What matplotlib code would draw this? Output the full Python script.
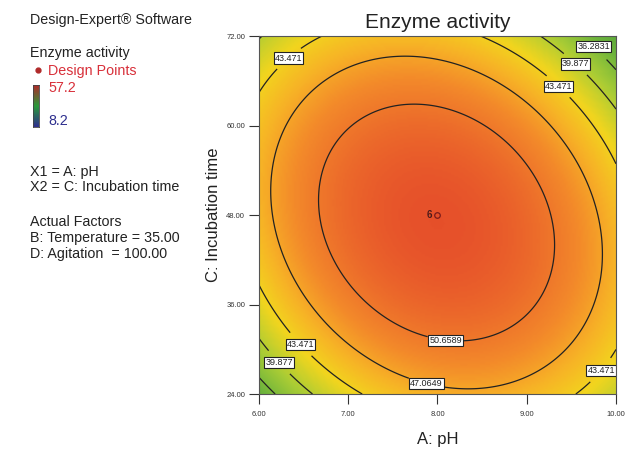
import numpy as np
import matplotlib
matplotlib.use('Agg')
import matplotlib.pyplot as plt
from matplotlib.colors import LinearSegmentedColormap, Normalize

plt.rcParams['font.family'] = ['Liberation Sans', 'DejaVu Sans']

# Quadratic model in coded units (A: pH, C: Incubation time)
b0, bA, bC, bAC, bAA, bCC = 54.33, -0.23, -0.75, -3.32, -8.75, -8.75
ph_range = [6.0, 10.0]
time_range = [24.0, 72.0]
ph_ticks = [6.0, 7.0, 8.0, 9.0, 10.0]
time_ticks = [24.0, 36.0, 48.0, 60.0, 72.0]
levels = [36.2831, 39.877, 43.471, 47.0649, 50.6589]
level_labels = ['36.2831', '39.877', '43.471', '47.0649', '50.6589']
# label positions (pH, time)
label_pos = [(6.29, 69.6), (9.79, 71.1), (9.59, 68.8), (9.39, 65.7), (8.10, 32.2),
             (7.89, 26.1), (6.48, 30.8), (6.24, 28.4), (9.80, 27.5)]
design_ph = [8.0]
design_time = [48.0]
design_reps = ['6']
scale_min, scale_max = 8.2, 57.2

# colour scale used by the surface
cmap_vals = [8.2, 20, 30, 35, 39, 43, 46, 49, 52, 54.5, 57.2]
cmap_cols = ['#2e2f8e', '#2a8f5a', '#4e9e38', '#6db43c', '#a9cc35', '#f2d51e',
             '#f7b326', '#f38a2a', '#ec6a2b', '#e6502a', '#d42a28']
nodes = [(v - scale_min) / (scale_max - scale_min) for v in cmap_vals]
cmap = LinearSegmentedColormap.from_list('de', list(zip(nodes, cmap_cols)))
norm = Normalize(scale_min, scale_max)

ph = np.linspace(ph_range[0], ph_range[1], 201)
tt = np.linspace(time_range[0], time_range[1], 201)
P, T = np.meshgrid(ph, tt)
A = (P - 8.0) / 2.0
C = (T - 48.0) / 24.0
Z = b0 + bA * A + bC * C + bAC * A * C + bAA * A ** 2 + bCC * C ** 2

fig = plt.figure(figsize=(6.34, 4.5), dpi=100)
ax = fig.add_axes([0.4085, 0.1244, 0.5631, 0.7956])
ax.imshow(Z, origin='lower', extent=[6, 10, 24, 72], aspect='auto', cmap=cmap,
          norm=norm, interpolation='bilinear')
cs = ax.contour(P, T, Z, levels=levels, colors='#222222', linewidths=0.9)
fmt = dict(zip(levels, level_labels))
labs = ax.clabel(cs, fmt=fmt, manual=label_pos, inline=True, inline_spacing=2, fontsize=6.5)
for t in labs:
    t.set_rotation(0)
    t.set_bbox(dict(facecolor='white', edgecolor='#222222', pad=0.8, linewidth=0.8))

ax.plot(design_ph, design_time, 'o', mfc='none', mec='#7a1a1a', ms=4, mew=0.9)
for x, y, r in zip(design_ph, design_time, design_reps):
    ax.text(x - 0.06, y, r, ha='right', va='center', fontsize=7, fontweight='bold', color='#4a1a1a')

ax.set_xlim(ph_range)
ax.set_ylim(time_range)
ax.set_xticks(ph_ticks)
ax.set_yticks(time_ticks)
ax.set_xticklabels(['%.2f' % v for v in ph_ticks], fontsize=5.5)
ax.set_yticklabels(['%.2f' % v for v in time_ticks], fontsize=5.5)
ax.tick_params(direction='out', length=7, width=0.8, colors='#333333', pad=3)
ax.tick_params(axis='x', pad=5)
for s in ax.spines.values():
    s.set_color('#555555')
    s.set_linewidth(0.8)
ax.set_xlabel('A: pH', fontsize=12, labelpad=10, color='#222222')
ax.set_ylabel('C: Incubation time', fontsize=12, labelpad=4, color='#222222')
ax.set_title('Enzyme activity', fontsize=15, pad=6, color='#222222')

# left side info block
def ftxt(x, y, s, **kw):
    fig.text(x / 634, 1 - y / 450, s, va='center', ha='left', fontsize=10.3, **kw)

ftxt(30, 20, 'Design-Expert® Software', color='#222222')
ftxt(30, 53, 'Enzyme activity', color='#222222')
fig.lines.append(plt.Line2D([38 / 634], [1 - 70 / 450], marker='o', ms=3.5, color='#b02a2a',
                            transform=fig.transFigure))
ftxt(48, 71, 'Design Points', color='#d8303a')
cax = fig.add_axes([33 / 634, 1 - 127 / 450, 6 / 634, 42 / 450])
grad = np.linspace(scale_min, scale_max, 100).reshape(-1, 1)
cax.imshow(grad, origin='lower', aspect='auto', cmap=LinearSegmentedColormap.from_list(
    'bar', ['#2e2f8e', '#2a9a3a', '#b02a2a']))
cax.set_xticks([])
cax.set_yticks([])
for s in cax.spines.values():
    s.set_color('#444444')
    s.set_linewidth(0.6)
ftxt(48, 88, '%.1f' % scale_max, color='#d8303a')
ftxt(48, 121, '%.1f' % scale_min, color='#2e2f8e')
ftxt(30, 172, 'X1 = A: pH', color='#222222')
ftxt(30, 187, 'X2 = C: Incubation time', color='#222222')
ftxt(30, 222, 'Actual Factors', color='#222222')
ftxt(30, 238, 'B: Temperature = 35.00', color='#222222')
ftxt(30, 254, 'D: Agitation  = 100.00', color='#222222')

fig.savefig('out.png', dpi=100)
